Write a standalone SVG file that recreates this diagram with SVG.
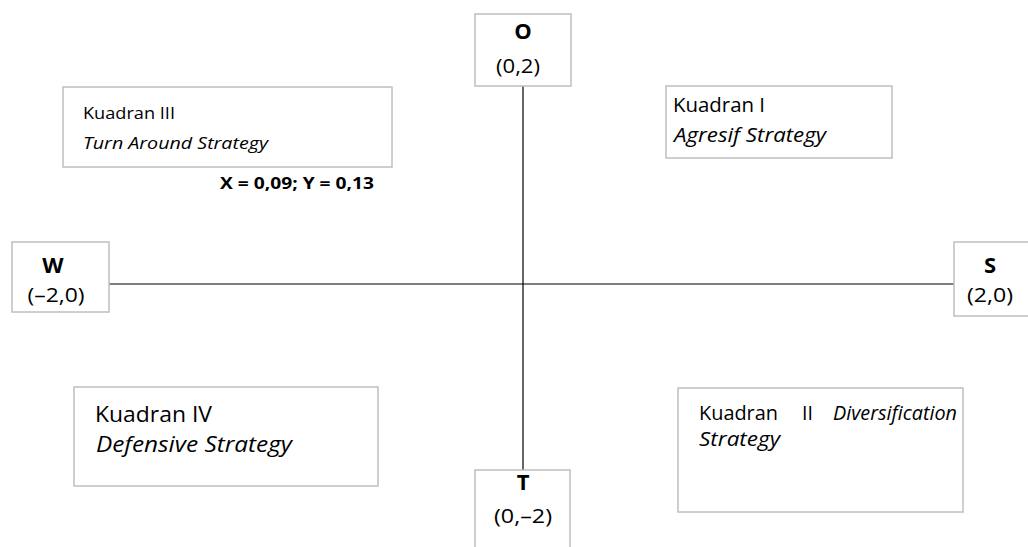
<svg xmlns="http://www.w3.org/2000/svg" width="1028" height="547" viewBox="0 0 1028 547">
<style>
.box{fill:#fff;stroke:#bfbfbf;stroke-width:1.5}
.ax{stroke:#000;stroke-width:1.2;fill:none}
text{font-family:"Open Sans","Noto Sans","Liberation Sans",sans-serif;fill:#000}
.b{font-weight:bold}
.i{font-style:italic}
.c{text-anchor:middle}
</style>
<rect width="1028" height="547" fill="#fff"/>
<g id="connectors">
<line class="ax" x1="523" y1="86" x2="523" y2="470"/>
<line class="ax" x1="109" y1="284" x2="954" y2="284"/>
</g>
<g id="node-O">
<rect class="box" x="475" y="14" width="96" height="72"/>
<text class="b c" x="523" y="39" font-size="22">O</text>
<text class="c" x="518" y="73" font-size="20" textLength="44" lengthAdjust="spacingAndGlyphs">(0,2)</text>
</g>
<g id="node-T">
<rect class="box" x="475" y="470" width="95" height="90"/>
<text class="b c" x="523" y="490" font-size="22">T</text>
<text class="c" x="523" y="523" font-size="20" textLength="58" lengthAdjust="spacingAndGlyphs">(0,–2)</text>
</g>
<g id="node-W">
<rect class="box" x="12" y="242" width="97" height="70"/>
<text class="b c" x="53" y="273" font-size="22">W</text>
<text class="c" x="56" y="302" font-size="20" textLength="57" lengthAdjust="spacingAndGlyphs">(–2,0)</text>
</g>
<g id="node-S">
<rect class="box" x="954" y="242" width="90" height="74"/>
<text class="b c" x="990" y="273" font-size="22">S</text>
<text class="c" x="990" y="302" font-size="20" textLength="46" lengthAdjust="spacingAndGlyphs">(2,0)</text>
</g>
<g id="node-kuadran-III">
<rect class="box" x="63" y="87" width="329" height="80"/>
<text x="83" y="119" font-size="17" textLength="92" lengthAdjust="spacingAndGlyphs">Kuadran III</text>
<text class="i" x="83" y="149" font-size="17" textLength="185" lengthAdjust="spacingAndGlyphs">Turn Around Strategy</text>
</g>
<g id="label-xy">
<text class="b" x="220" y="189" font-size="16.5" textLength="154" lengthAdjust="spacingAndGlyphs">X = 0,09; Y = 0,13</text>
</g>
<g id="node-kuadran-I">
<rect class="box" x="666" y="86" width="226" height="72"/>
<text x="673" y="112" font-size="19.5" textLength="92" lengthAdjust="spacingAndGlyphs">Kuadran I</text>
<text class="i" x="674" y="142" font-size="19.5" textLength="152" lengthAdjust="spacingAndGlyphs">Agresif Strategy</text>
</g>
<g id="node-kuadran-IV">
<rect class="box" x="74" y="387" width="304" height="99"/>
<text x="95" y="422" font-size="21.5" textLength="117" lengthAdjust="spacingAndGlyphs">Kuadran IV</text>
<text class="i" x="96" y="452" font-size="21.5" textLength="196" lengthAdjust="spacingAndGlyphs">Defensive Strategy</text>
</g>
<g id="node-kuadran-II">
<rect class="box" x="678" y="388" width="285" height="124"/>
<text x="699" y="420" font-size="19.5" textLength="79" lengthAdjust="spacingAndGlyphs">Kuadran</text>
<text x="802" y="420" font-size="19.5">II</text>
<text class="i" x="833" y="420" font-size="19.5" textLength="124" lengthAdjust="spacingAndGlyphs">Diversification</text>
<text class="i" x="699" y="446" font-size="19.5" textLength="81" lengthAdjust="spacingAndGlyphs">Strategy</text>
</g>
</svg>
